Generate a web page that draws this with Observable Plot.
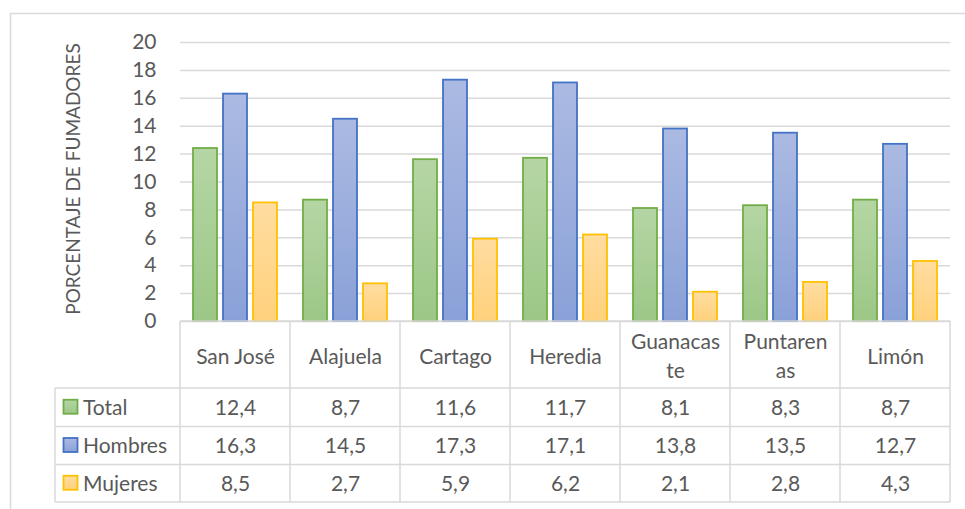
<!DOCTYPE html>
<html>
<head>
<meta charset="utf-8">
<script src="https://cdn.jsdelivr.net/npm/d3@7"></script>
<script src="https://cdn.jsdelivr.net/npm/@observablehq/plot@0.6"></script>
<style>
  html, body { margin: 0; padding: 0; background: #fff; }
  #chart { width: 965px; height: 509px; overflow: hidden; }
</style>
</head>
<body>
<div id="chart"></div>
<script>
const provinces = ["San José", "Alajuela", "Cartago", "Heredia", "Guanacaste", "Puntarenas", "Limón"];
const headerLabels = ["San José", "Alajuela", "Cartago", "Heredia", "Guanacas\nte", "Puntaren\nas", "Limón"];
const series = ["Total", "Hombres", "Mujeres"];
const total = [12.4, 8.7, 11.6, 11.7, 8.1, 8.3, 8.7];
const hombres = [16.3, 14.5, 17.3, 17.1, 13.8, 13.5, 12.7];
const mujeres = [8.5, 2.7, 5.9, 6.2, 2.1, 2.8, 4.3];
const yTicks = [0, 2, 4, 6, 8, 10, 12, 14, 16, 18, 20];
const yTitle = "PORCENTAJE DE FUMADORES";

const seriesValues = [total, hombres, mujeres];
const seriesStroke = ["#70ad47", "#4472c4", "#ffc000"];
const seriesGrad = [["#b5d6a4", "#9cc787"], ["#abbae2", "#8aa1d8"], ["#ffdda0", "#ffd17c"]];
const gradIds = ["gTotal", "gHombres", "gMujeres"];

const data = provinces.flatMap((p, i) => series.map((s, j) => ({province: p, serie: s, value: seriesValues[j][i]})));
const fmt = v => v.toFixed(1).replace(".", ",");

const FONT = "Lato, 'Liberation Sans', sans-serif";
const GRID = "#d9d9d9";
const TEXT = "#595959";

const rowDy = [86.5, 125, 162.5];

const plot = Plot.plot({
  width: 965,
  height: 509,
  marginTop: 42,
  marginBottom: 188,
  marginLeft: 180,
  marginRight: 15,
  style: {fontFamily: FONT, fontSize: "21px", color: TEXT, background: "#fff", overflow: "visible"},
  fx: {domain: provinces, padding: 0, axis: null, label: null},
  x: {domain: series, paddingInner: 0.19, paddingOuter: 0.4, axis: null, label: null},
  y: {domain: [0, 20]},
  marks: [
    Plot.gridY(yTicks, {stroke: GRID, strokeOpacity: 1, strokeWidth: 1.5}),
    Plot.axisY(yTicks, {
      tickSize: 0, tickPadding: 24, fill: TEXT,
      label: yTitle, labelAnchor: "center", labelOffset: 114, labelArrow: "none"
    }),
    ...series.map((s, j) => Plot.barY(data.filter(d => d.serie === s), {
      fx: "province", x: "serie", y: "value",
      fill: `url(#${gradIds[j]})`, stroke: seriesStroke[j], strokeWidth: 1.8
    })),
    Plot.text(provinces, {
      fx: d => d, text: (d, i) => headerLabels[i],
      frameAnchor: "bottom", lineAnchor: "middle", dy: 33, lineHeight: 1.35, fill: TEXT, fontSize: 21
    }),
    ...seriesValues.map((vals, j) => Plot.text(provinces, {
      fx: d => d, text: (d, i) => fmt(vals[i]),
      frameAnchor: "bottom", lineAnchor: "middle", dy: rowDy[j], fill: TEXT, fontSize: 21
    }))
  ]
});

const svg = d3.select(plot);
const defs = svg.insert("defs", ":first-child");
gradIds.forEach((id, j) => {
  const g = defs.append("linearGradient").attr("id", id).attr("x1", 0).attr("y1", 0).attr("x2", 0).attr("y2", 1);
  g.append("stop").attr("offset", "0%").attr("stop-color", seriesGrad[j][0]);
  g.append("stop").attr("offset", "100%").attr("stop-color", seriesGrad[j][1]);
});

svg.selectAll("[aria-label='y-axis label'] text").attr("font-size", 19).attr("dx", "3");

// table grid and legend, positioned with Plot's fx scale
const fxScale = plot.scale("fx");
const bw = fxScale.bandwidth;
const tblLeft = fxScale.apply(provinces[0]);
const tblRight = fxScale.apply(provinces[provinces.length - 1]) + bw;
const tblTop = 321;
const rowY = [388, 426.5, 464.5, 502];
const legendLeft = 55;

const tbl = svg.append("g").attr("stroke", GRID).attr("stroke-width", 1.5).attr("fill", "none");
tbl.append("line").attr("x1", tblLeft).attr("x2", tblRight).attr("y1", tblTop).attr("y2", tblTop);
rowY.forEach(y => tbl.append("line").attr("x1", legendLeft).attr("x2", tblRight).attr("y1", y).attr("y2", y));
provinces.forEach(p => {
  const x = fxScale.apply(p);
  tbl.append("line").attr("x1", x).attr("x2", x).attr("y1", tblTop).attr("y2", rowY[3]);
});
tbl.append("line").attr("x1", tblRight).attr("x2", tblRight).attr("y1", tblTop).attr("y2", rowY[3]);
tbl.append("line").attr("x1", legendLeft).attr("x2", legendLeft).attr("y1", rowY[0]).attr("y2", rowY[3]);

// outer chart border
svg.append("path").attr("d", "M10.5,509 V13.5 H965").attr("stroke", GRID).attr("stroke-width", 1.5).attr("fill", "none");

const leg = svg.append("g");
series.forEach((s, j) => {
  const cy = (rowY[j] + rowY[j + 1]) / 2;
  leg.append("rect").attr("x", 63.5).attr("y", cy - 7.5).attr("width", 14).attr("height", 14)
    .attr("fill", `url(#${gradIds[j]})`).attr("stroke", seriesStroke[j]).attr("stroke-width", 1.8);
  leg.append("text").attr("x", 83).attr("y", cy).attr("dy", "0.35em").attr("text-anchor", "start")
    .attr("font-family", FONT).attr("font-size", 21).attr("fill", TEXT).text(s);
});

document.getElementById("chart").appendChild(plot);
</script>
</body>
</html>
